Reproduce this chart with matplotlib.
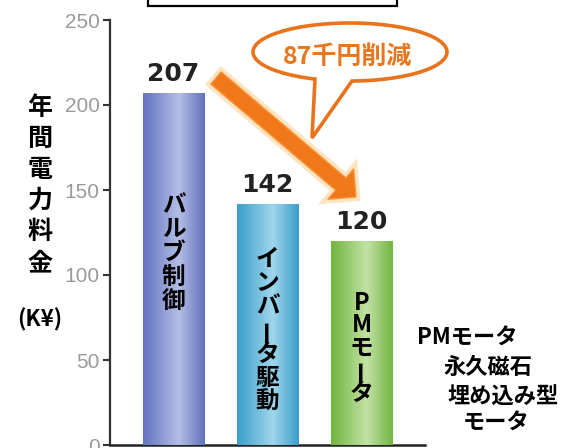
import numpy as np
import matplotlib
matplotlib.use('Agg')
import matplotlib.pyplot as plt
from matplotlib.colors import LinearSegmentedColormap
from matplotlib.patches import Polygon, Rectangle
from matplotlib.transforms import Affine2D
import matplotlib.patheffects as pe

# chart data
categories = ['バルブ制御', 'インバータ駆動', 'PMモータ']
costs = [207, 142, 120]
y_ticks = [0, 50, 100, 150, 200, 250]
y_label = '年間電力料金'
y_unit = '(K¥)'
saving_text = '87千円削減'
note_lines = ['PMモータ', '永久磁石', '埋め込み型', 'モータ']

# bar gradient colours: edge, centre, edge
bar_grads = [
    ['#6474c0', '#b3bee6', '#6372bd'],
    ['#3c9fcb', '#9fd6ec', '#3d9ecb'],
    ['#72b540', '#c2e2a4', '#73b642'],
]

JP = ['Noto Sans CJK JP', 'DejaVu Sans']
W, H = 581, 448

fig = plt.figure(figsize=(W / 100, H / 100), dpi=100)
# pixel coords (y down) -> figure fraction
px = Affine2D().scale(1 / W, -1 / H).translate(0, 1) + fig.transFigure

ax = fig.add_axes([110 / W, 3 / H, 315 / W, 425 / H])
x = np.arange(len(costs))
bars = ax.bar(x, costs, width=0.65, color=[g[1] for g in bar_grads], zorder=2)

# gradient fill for each bar
for b, g in zip(bars, bar_grads):
    cmap = LinearSegmentedColormap.from_list('g', [(0, g[0]), (0.58, g[1]), (1, g[2])])
    im = ax.imshow(np.linspace(0, 1, 64).reshape(1, -1), cmap=cmap, aspect='auto',
                   extent=[b.get_x(), b.get_x() + b.get_width(), 0, b.get_height()],
                   zorder=3)
    im.set_clip_path(b)

ax.set_xlim(-0.676, 2.675)
ax.set_ylim(0, 250)
ax.set_yticks(y_ticks)
ax.set_yticklabels([str(t) for t in y_ticks], family='Liberation Sans',
                   fontsize=15, color='#9a9a9a')
ax.tick_params(axis='y', length=5, width=1.5, color='#333333', pad=2.5)
ax.tick_params(axis='x', length=0, labelbottom=False)
for s in ['top', 'right']:
    ax.spines[s].set_visible(False)
ax.spines['left'].set_linewidth(1.6)
ax.spines['left'].set_color('#333333')
ax.spines['bottom'].set_linewidth(1.8)
ax.spines['bottom'].set_color('#222222')

# value labels
for xi, v in zip(x, costs):
    ax.text(xi, v + 7, str(v), ha='center', va='baseline', fontsize=18,
            fontweight='bold', color='#222222', family='DejaVu Sans', zorder=5)

# vertical labels inside bars
label_top = [141, 109.5, 83.5]
label_step = [14.1, 14.0, 13.2]
for xi, name, top, step in zip(x, categories, label_top, label_step):
    for k, ch in enumerate(name):
        ax.text(xi, top - k * step, ch, ha='center', va='center', fontsize=17,
                fontweight='bold', family=JP, color='black',
                rotation=90 if ch == 'ー' else 0, zorder=5)

# y label, stacked characters
for k, ch in enumerate(y_label):
    fig.text(40, 108 + k * 31, ch, transform=px, ha='center', va='center',
             fontsize=18, fontweight='bold', family=JP)
fig.text(40, 320, y_unit, transform=px, ha='center', va='center',
         fontsize=16, fontweight='bold', family=JP)

# note on the right
note_pos = [(417, 338), (443, 368), (447, 397), (463, 423)]
for (nx, ny), line in zip(note_pos, note_lines):
    fig.text(nx, ny, line, transform=px, ha='left', va='center', fontsize=16,
             fontweight='bold', family=JP)

# box cut off at the top
fig.patches.append(Rectangle((148, -10), 249, 16, transform=px, facecolor='white',
                             edgecolor='black', linewidth=1.6))

# orange arrow
S = np.array([216.0, 78.0])
T = np.array([356.0, 197.0])
u = (T - S) / np.linalg.norm(T - S)
n = np.array([-u[1], u[0]])
B = T - u * 20
w, hw = 8, 20
arrow_pts = [S + n * w, B + n * w, B + n * hw, T, B - n * hw, B - n * w, S - n * w]
arrow = Polygon(arrow_pts, closed=True, transform=px, facecolor='#f07818',
                edgecolor='#f3963f', linewidth=1)
arrow.set_path_effects([pe.Stroke(linewidth=6, foreground='#fde3c0'), pe.Normal()])
fig.patches.append(arrow)

# speech bubble
cx, cy, a, bb = 350, 52, 97, 29
t1 = np.arccos((352 - cx) / a)
t2 = np.arccos((315 - cx) / a)
t = np.linspace(t2, t1 + 2 * np.pi, 200)
bubble_pts = np.column_stack([cx + a * np.cos(t), cy + bb * np.sin(t)])
bubble_pts = np.vstack([bubble_pts, [312, 138]])
bubble = Polygon(bubble_pts, closed=True, transform=px, facecolor='white',
                 edgecolor='#e8731a', linewidth=2.6, joinstyle='miter')
fig.patches.append(bubble)
fig.text(348, 57, saving_text, transform=px, ha='center', va='center',
         fontsize=18, fontweight='bold', family=JP, color='#e8761e')

fig.savefig('out.png', dpi=100)
